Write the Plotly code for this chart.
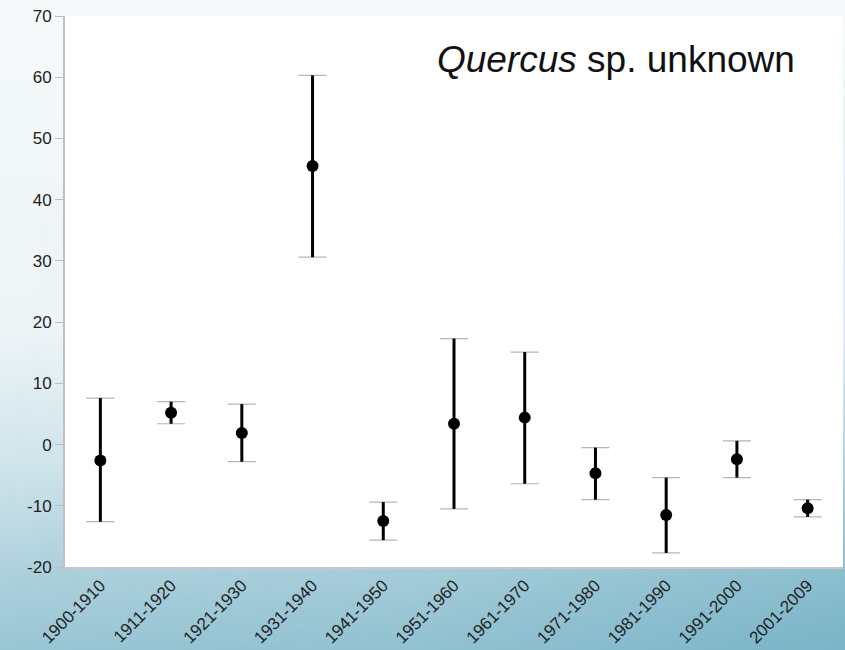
import base64
import plotly.graph_objects as go

periods = ["1900-1910", "1911-1920", "1921-1930", "1931-1940", "1941-1950", "1951-1960",
           "1961-1970", "1971-1980", "1981-1990", "1991-2000", "2001-2009"]
means = [-2.6, 5.2, 1.9, 45.5, -12.5, 3.4, 4.4, -4.7, -11.5, -2.4, -10.4]
upper = [7.6, 7.0, 6.6, 60.3, -9.4, 17.3, 15.1, -0.5, -5.4, 0.6, -9.0]
lower = [-12.6, 3.4, -2.8, 30.6, -15.6, -10.5, -6.4, -9.0, -17.7, -5.4, -11.8]
y_ticks = [-20, -10, 0, 10, 20, 30, 40, 50, 60, 70]
y_tick_text = ["-20", "-10", "0", "10", "20", "30", "40", "50", "60", "70"]

err_plus = [u - m for u, m in zip(upper, means)]
err_minus = [m - l for m, l in zip(means, lower)]

W, H = 845, 650
ML, MR, MT, MB = 65, 2, 16, 83
PW, PH = W - ML - MR, H - MT - MB

svg = f'''<svg xmlns="http://www.w3.org/2000/svg" width="{W}" height="{H}" viewBox="0 0 {W} {H}" preserveAspectRatio="none">
<defs>
<linearGradient id="v" x1="0" y1="0" x2="0" y2="1">
<stop offset="0" stop-color="#f5f9fa"/>
<stop offset="0.5" stop-color="#eef5f7"/>
<stop offset="0.72" stop-color="#cfe4eb"/>
<stop offset="0.88" stop-color="#aed1dd"/>
<stop offset="1" stop-color="#9ac6d5"/>
</linearGradient>
<linearGradient id="h" x1="0" y1="0" x2="1" y2="0">
<stop offset="0" stop-color="#5fa6bd" stop-opacity="0"/>
<stop offset="0.5" stop-color="#5fa6bd" stop-opacity="0.15"/>
<stop offset="1" stop-color="#5fa6bd" stop-opacity="0.55"/>
</linearGradient>
<linearGradient id="m" x1="0" y1="0" x2="0" y2="1">
<stop offset="0" stop-color="#fff" stop-opacity="0"/>
<stop offset="0.55" stop-color="#fff" stop-opacity="0.2"/>
<stop offset="1" stop-color="#fff" stop-opacity="1"/>
</linearGradient>
<mask id="mk"><rect width="{W}" height="{H}" fill="url(#m)"/></mask>
</defs>
<rect width="{W}" height="{H}" fill="url(#v)"/>
<rect width="{W}" height="{H}" fill="url(#h)" mask="url(#mk)"/>
</svg>'''
src = "data:image/svg+xml;base64," + base64.b64encode(svg.encode()).decode()

fig = go.Figure()
# gray caps
fig.add_trace(go.Scatter(
    x=periods, y=means, mode="markers",
    marker=dict(size=1, color="rgba(0,0,0,0)"),
    error_y=dict(type="data", symmetric=False, array=err_plus, arrayminus=err_minus,
                 color="#b5b5b5", thickness=1.2, width=14),
    hoverinfo="skip", showlegend=False))
# black bars and points
fig.add_trace(go.Scatter(
    x=periods, y=means, mode="markers",
    marker=dict(size=12, color="black"),
    error_y=dict(type="data", symmetric=False, array=err_plus, arrayminus=err_minus,
                 color="black", thickness=3, width=0),
    showlegend=False))

fig.add_layout_image(dict(
    source=src, xref="paper", yref="paper",
    x=-ML / PW, y=1 + MT / PH, sizex=W / PW, sizey=H / PH,
    xanchor="left", yanchor="top", sizing="stretch", layer="below"))
fig.add_shape(type="rect", xref="paper", yref="paper", x0=0, x1=1, y0=0, y1=1,
              fillcolor="white", line=dict(width=0), layer="below")

fig.add_annotation(
    text="<i>Quercus</i> sp. unknown", xref="paper", yref="paper",
    x=(797 - ML) / PW, y=(H - MB - 60) / PH, xanchor="right", yanchor="middle",
    showarrow=False, font=dict(family="Liberation Sans, Arial", size=37, color="#111"))

fig.update_layout(
    width=W, height=H,
    margin=dict(l=ML, r=MR, t=MT, b=MB, pad=0),
    paper_bgcolor="#f5f9fa", plot_bgcolor="white",
    font=dict(family="Liberation Sans, Arial", size=17, color="#222"),
    xaxis=dict(type="category", range=[-0.5, 10.5], showgrid=False, zeroline=False,
               showline=True, linecolor="#c8c8c8", linewidth=2, ticks="",
               tickangle=-45, tickfont=dict(size=17, color="#222")),
    yaxis=dict(range=[-20, 70], tickvals=y_ticks, ticktext=y_tick_text,
               showgrid=False, zeroline=False,
               showline=True, linecolor="#c0c0c0", linewidth=2, ticks="outside",
               ticklen=8, tickcolor="#bdbdbd", tickwidth=1,
               tickfont=dict(size=17, color="#222")),
)

fig.write_html("out.html")
